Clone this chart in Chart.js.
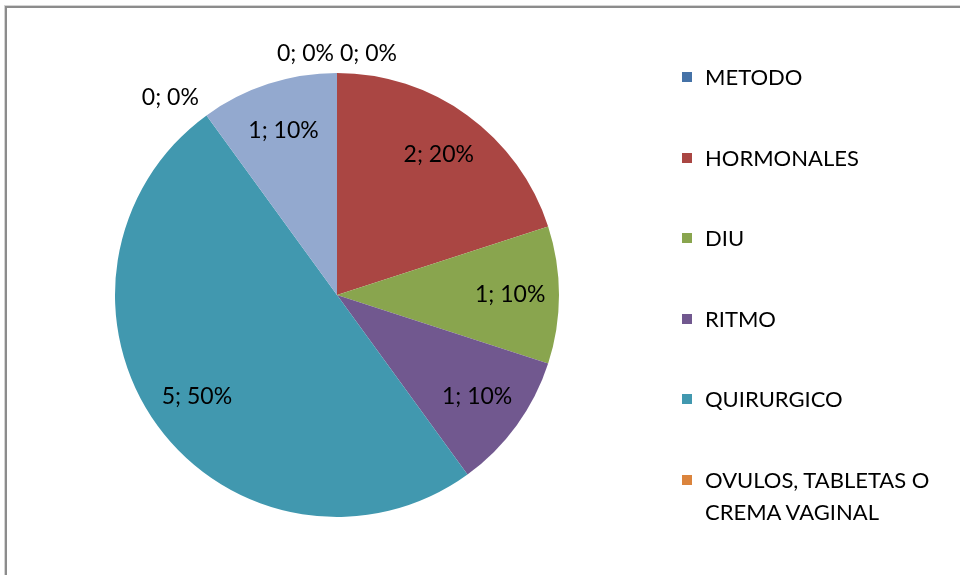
<!DOCTYPE html>
<html lang="es">
<head>
<meta charset="utf-8">
<title>Métodos anticonceptivos</title>
<script src="https://cdn.jsdelivr.net/npm/chart.js@4/dist/chart.umd.min.js"></script>
<style>
    html, body { margin: 0; padding: 0; background: #fff; }
    #wrap { position: relative; width: 960px; height: 575px; overflow: hidden; font-family: Lato, "Open Sans", sans-serif; }
    #frame {
        position: absolute; left: 5px; top: 6px; width: 1000px; height: 600px;
        border-left: 2px solid #8c8c8c; border-top: 2px solid #8c8c8c;
        box-shadow: -1px -1px 0 #d4d4d4;
    }
    #pie { position: absolute; left: 0; top: 0; }
    #legend { position: absolute; left: 682px; top: 61px; width: 275px; }
    .item { position: absolute; left: 0; width: 275px; font-size: 22px; line-height: 32px; color: #000; }
    .item .sw { position: absolute; left: 0; top: 11px; width: 10px; height: 10px; }
    .item .tx { display: block; padding-left: 23px; }
</style>
</head>
<body>
<div id="wrap">
    <div id="frame"></div>
    <canvas id="pie" width="960" height="575"></canvas>
    <div id="legend"></div>
</div>
<script>
// --- datos ---
const categories = ['METODO', 'HORMONALES', 'DIU', 'RITMO', 'QUIRURGICO', 'OVULOS, TABLETAS O CREMA VAGINAL', 'PRESERVATIVO', 'OTROS'];
const counts = [0, 2, 1, 1, 5, 0, 1, 0];
const sliceColors = ['#4572A7', '#AA4643', '#89A54E', '#71588F', '#4198AF', '#DB843D', '#93A9CF', '#D19392'];
const legendShown = 6;   // solo caben seis entradas en la leyenda

const total = counts.reduce((a, b) => a + b, 0);

// etiquetas "valor; porcentaje" sobre cada sector
const sliceLabels = {
    id: 'sliceLabels',
    afterDatasetsDraw(chart) {
        const ctx = chart.ctx;
        const meta = chart.getDatasetMeta(0);
        ctx.save();
        ctx.font = '23px Lato, "Open Sans", sans-serif';
        ctx.fillStyle = '#000';
        meta.data.forEach((arc, i) => {
            const p = arc.getProps(['x', 'y', 'startAngle', 'endAngle', 'outerRadius'], true);
            const v = counts[i];
            const text = v + '; ' + Math.round(v / total * 100) + '%';
            if (v > 0) {
                const mid = (p.startAngle + p.endAngle) / 2;
                const r = p.outerRadius * 0.78;
                ctx.textAlign = 'center';
                ctx.textBaseline = 'middle';
                ctx.fillText(text, p.x + Math.cos(mid) * r, p.y + Math.sin(mid) * r);
            } else {
                // sector vacío: etiqueta fuera del borde
                const a = p.startAngle;
                const r = p.outerRadius + 8;
                const fromTop = a + Math.PI / 2;
                ctx.textAlign = fromTop < Math.PI ? 'left' : 'right';
                ctx.textBaseline = 'bottom';
                ctx.fillText(text, p.x + Math.cos(a) * r + (fromTop < Math.PI ? 3 : -3), p.y + Math.sin(a) * r);
            }
        });
        ctx.restore();
    }
};

new Chart(document.getElementById('pie'), {
    type: 'pie',
    data: {
        labels: categories,
        datasets: [{
            data: counts,
            backgroundColor: sliceColors,
            borderWidth: 0
        }]
    },
    options: {
        responsive: false,
        animation: false,
        layout: { padding: { left: 115, right: 401, top: 73, bottom: 58 } },
        plugins: {
            legend: { display: false },
            tooltip: { enabled: false }
        }
    },
    plugins: [sliceLabels]
});

// leyenda a la derecha
const legend = document.getElementById('legend');
categories.slice(0, legendShown).forEach((name, i) => {
    const item = document.createElement('div');
    item.className = 'item';
    item.style.top = (i * 80.6) + 'px';
    item.innerHTML = '<span class="sw" style="background:' + sliceColors[i] + '"></span><span class="tx">' + name + '</span>';
    legend.appendChild(item);
});
</script>
</body>
</html>
